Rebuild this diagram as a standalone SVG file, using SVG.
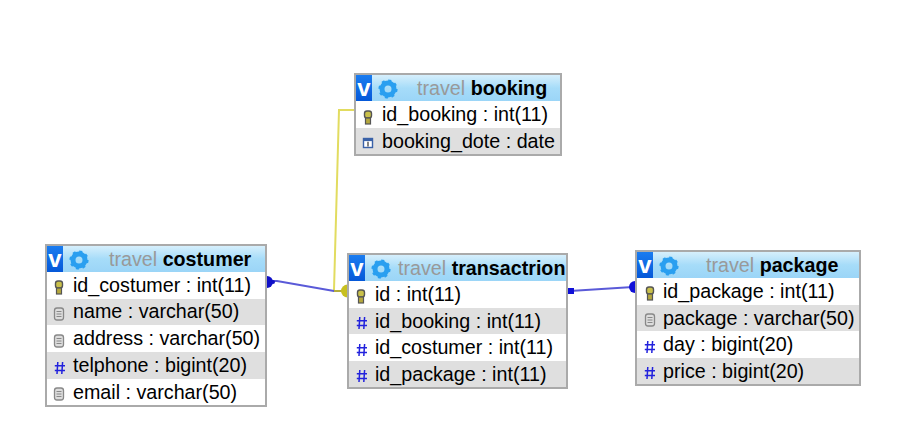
<svg xmlns="http://www.w3.org/2000/svg" width="916" height="438" viewBox="0 0 916 438">
<style>
text{font-family:"Liberation Sans",Arial,sans-serif;font-size:19.7px;fill:#000}
.box{fill:#fff;stroke:#aaa;stroke-width:2}
.alt{fill:#dfdfdf}
.hd{fill:url(#hg)}
.t1{fill:#999}
.t2{font-weight:bold}
.v{fill:#fff;font-weight:bold;font-size:24px;text-anchor:middle}
.conn{fill:none;stroke-width:2}
</style>
<defs>
<linearGradient id="hg" x1="0" y1="0" x2="0" y2="1"><stop offset="0" stop-color="#d6effc"/><stop offset=".5" stop-color="#a6dcf9"/><stop offset="1" stop-color="#9bd5f7"/></linearGradient>
<linearGradient id="vg" x1="0" y1="0" x2="0" y2="1"><stop offset="0" stop-color="#1a7cf0"/><stop offset="1" stop-color="#0558d8"/></linearGradient>
<g id="head">
<rect width="16" height="26" fill="url(#vg)"/>
<text class="v" x="8" y="21">v</text>
<circle cx="32" cy="14" r="6" fill="none" stroke="#2a9ff0" stroke-width="5"/>
<circle cx="32" cy="14" r="8.500" fill="none" stroke="#2a9ff0" stroke-width="2.200" stroke-dasharray="3 3.670"/>
</g>
<g id="key">
<rect x="-3.500" y="-6" width="7" height="7" rx="2.500" fill="#c9c04a" stroke="#555" stroke-width="1.400"/>
<rect x="-2.500" y="1" width="5" height="6" fill="#b5a83e" stroke="#555" stroke-width="1.200"/>
</g>
<g id="hash" stroke="#2222dd" stroke-width="1.500" fill="none">
<path d="M-2.200-6-3 6M2.600-6 1.800 6M-5.200-2.200H5M-5.200 2.400H5"/>
</g>
<g id="txt">
<rect x="-4" y="-6" width="9" height="12" rx="2.500" fill="#ddd" stroke="#888" stroke-width="1.300"/>
<path d="M-2-2.500H3M-2 0H3M-2 2.500H3" stroke="#888" stroke-width="1"/>
</g>
<g id="cal">
<rect x="-4.500" y="-4.500" width="9" height="9" fill="#fff" stroke="#3a62a8" stroke-width="1.400"/>
<rect x="-4.500" y="-4.500" width="9" height="2.600" fill="#3a62a8"/>
<path d="M0-1.200V3.400" stroke="#333" stroke-width="1.200"/>
</g>
</defs>
<rect width="916" height="438" fill="#fff"/>
<g id="connectors">
<path class="conn" d="M354 110H339L334 290" stroke="#e2dc60"/>
<path class="conn" d="M333 291H343" stroke="#b3ad3c" stroke-width="2.500"/>
<path class="conn" d="M268 281H277L334 291" stroke="#5a5ad8"/>
<path class="conn" d="M570 291 633 287" stroke="#5a5ad8"/>
<path d="M267 276a6 6 0 0 1 0 12z" fill="#1010c8"/><circle cx="273" cy="282" r="2" fill="#1010c8"/>
<path d="M347.500 284.500a6.500 6.500 0 0 0 0 13z" fill="#c8c020"/>
<rect x="568" y="288" width="6" height="6" fill="#1010d8"/>
<path d="M635 281a6 6 0 0 0 0 12z" fill="#1010d8"/>
</g>
<g id="booking">
<rect class="box" x="355" y="74" width="206" height="81"/>
<rect class="hd" x="356" y="75" width="204" height="26"/>
<use href="#head" x="356" y="75"/>
<rect class="alt" x="356" y="128" width="204" height="26"/>
<text x="417" y="95"><tspan class="t1">travel </tspan><tspan class="t2">booking</tspan></text>
<use href="#key" x="368" y="117"/><text x="382" y="121">id_booking : int(11)</text>
<use href="#cal" x="368" y="143"/><text x="382" y="148">booking_dote : date</text>
</g>
<g id="costumer">
<rect class="box" x="46" y="245" width="220" height="161"/>
<rect class="hd" x="47" y="246" width="218" height="26"/>
<use href="#head" x="47" y="246"/>
<rect class="alt" x="47" y="299" width="218" height="26"/>
<rect class="alt" x="47" y="352" width="218" height="27"/>
<text x="109" y="266"><tspan class="t1">travel </tspan><tspan class="t2">costumer</tspan></text>
<use href="#key" x="59" y="287"/><text x="73" y="292">id_costumer : int(11)</text>
<use href="#txt" x="58.500" y="314"/><text x="73" y="318">name : varchar(50)</text>
<use href="#txt" x="58.500" y="341"/><text x="73" y="345">address : varchar(50)</text>
<use href="#hash" x="60" y="368"/><text x="73" y="372">telphone : bigint(20)</text>
<use href="#txt" x="58.500" y="394"/><text x="73" y="399">email : varchar(50)</text>
</g>
<g id="transactrion">
<rect class="box" x="348" y="254" width="219" height="134"/>
<rect class="hd" x="349" y="255" width="217" height="26"/>
<use href="#head" x="349" y="255"/>
<rect class="alt" x="349" y="308" width="217" height="26"/>
<rect class="alt" x="349" y="361" width="217" height="26"/>
<text x="398" y="275"><tspan class="t1">travel </tspan><tspan class="t2">transactrion</tspan></text>
<use href="#key" x="361" y="296"/><text x="375" y="301">id : int(11)</text>
<use href="#hash" x="362" y="323"/><text x="375" y="328">id_booking : int(11)</text>
<use href="#hash" x="362" y="350"/><text x="375" y="354">id_costumer : int(11)</text>
<use href="#hash" x="362" y="376"/><text x="375" y="381">id_package : int(11)</text>
</g>
<g id="package">
<rect class="box" x="636" y="251" width="224" height="134"/>
<rect class="hd" x="637" y="252" width="222" height="26"/>
<use href="#head" x="637" y="252"/>
<rect class="alt" x="637" y="305" width="222" height="26"/>
<rect class="alt" x="637" y="358" width="222" height="26"/>
<text x="706" y="272"><tspan class="t1">travel </tspan><tspan class="t2">package</tspan></text>
<use href="#key" x="650" y="293"/><text x="663" y="298">id_package : int(11)</text>
<use href="#txt" x="649.500" y="320"/><text x="663" y="325">package : varchar(50)</text>
<use href="#hash" x="650" y="347"/><text x="663" y="351">day : bigint(20)</text>
<use href="#hash" x="650" y="373"/><text x="663" y="378">price : bigint(20)</text>
</g>
</svg>
